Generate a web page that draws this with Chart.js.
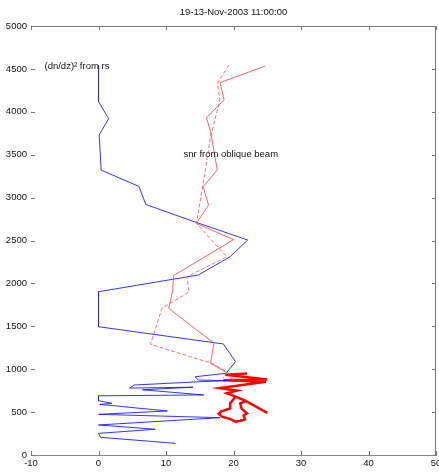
<!DOCTYPE html>
<html>
<head>
<meta charset="utf-8">
<script src="https://cdn.jsdelivr.net/npm/chart.js@4"></script>
<style>
  html, body { margin: 0; padding: 0; background: #fff; }
  #wrap { width: 439px; height: 476px; }
</style>
</head>
<body>
<div id="wrap"><canvas id="chart" width="439" height="476"></canvas></div>
<script>
// profile data: [value, height in m]
const rsProfile = [
    [0, 4540], [0, 4120], [1.5, 3920], [0.1, 3730], [0.4, 3320], [6, 3130], [7, 2920],
    [14.3, 2716], [22.1, 2506], [19.5, 2311], [14.8, 2098], [0, 1903], [0, 1495],
    [18.5, 1294], [20.3, 1088], [18.9, 952], [14.3, 912], [14.8, 874], [19, 866],
    [15, 854], [5.3, 816], [4.6, 780], [14, 790], [6.5, 760], [15.6, 700], [0, 690],
    [0, 633], [2, 602], [0.2, 590], [10.2, 513], [0, 474], [18, 435], [0, 350],
    [8.4, 300], [0, 252], [0.3, 206], [11.4, 136],
];
const snrProfileA = [
    [24.7, 4534], [18, 4340], [18.6, 4140], [16, 3930], [16.6, 3770], [17.6, 3322],
    [15.5, 3127], [16.3, 2914], [14.5, 2700], [20, 2510], [11.1, 2090], [11, 1920],
    [10.4, 1710], [17.1, 1302], [16.6, 1068], [19, 960], [20, 870],
];
const snrProfileB = [
    [19.3, 4545], [17.6, 4330], [18, 4140], [16.6, 3710], [15.5, 3160], [14.5, 2700],
    [19, 2311], [13.1, 2078], [13.4, 1900], [9.4, 1710], [7.7, 1290], [16.8, 1068],
    [19, 971], [18.5, 900],
];
const snrLowA = [
    [22, 950], [18.8, 935], [25, 880], [18.5, 870], [24.8, 855], [18, 780], [20.5, 750],
    [19, 720], [20.3, 680], [21.8, 630], [25, 490],
];
const snrLowB = [
    [20.3, 680], [19.5, 600], [19.5, 544], [18.2, 510], [17.8, 480], [18.3, 446],
    [19.5, 420], [20.3, 388], [21, 400], [21.7, 415], [21.5, 460], [22, 486],
    [21.2, 540], [21, 600], [21.8, 630],
];
const xTicks = [-10, 0, 10, 20, 30, 40, 50];
const titleText = "19-13-Nov-2003 11:00:00";
const notes = [
    { text: "(dn/dz)\u00b2 from rs", x: -8, y: 4534 },
    { text: "snr from oblique beam", x: 12.6, y: 3500 },
];

const toPoints = arr => arr.map(([x, y]) => ({ x, y }));

// narrow font if there is one
const probe = document.createElement("canvas").getContext("2d");
const widthIn = f => { probe.font = "20px " + f; return probe.measureText("snr from oblique beam").width; };
const hasNarrow = widthIn('"Liberation Sans Narrow", monospace') !== widthIn("monospace");
const family = hasNarrow ? '"Liberation Sans Narrow"' : '"Liberation Sans", Arial';
const fontSize = hasNarrow ? 11 : 9.5;

const inwardTicks = {
    id: "inwardTicks",
    afterDraw(chart) {
        const ctx = chart.ctx;
        const { left, right, top, bottom } = chart.chartArea;
        const xs = chart.scales.x, ys = chart.scales.y;
        ctx.save();
        ctx.strokeStyle = "#777";
        ctx.lineWidth = 1;
        ctx.beginPath();
        ctx.moveTo(left, top + 0.5); ctx.lineTo(right, top + 0.5);
        ctx.moveTo(right - 0.5, top); ctx.lineTo(right - 0.5, bottom);
        xs.ticks.forEach(t => {
            const px = Math.round(xs.getPixelForValue(t.value)) + 0.5;
            ctx.moveTo(px, bottom); ctx.lineTo(px, bottom - 4);
            ctx.moveTo(px, top); ctx.lineTo(px, top + 4);
        });
        ys.ticks.forEach(t => {
            const py = Math.round(ys.getPixelForValue(t.value)) + 0.5;
            ctx.moveTo(left, py); ctx.lineTo(left + 4, py);
            ctx.moveTo(right, py); ctx.lineTo(right - 4, py);
        });
        ctx.stroke();

        ctx.fillStyle = "#111";
        ctx.font = fontSize + "px " + family;
        ctx.textAlign = "center";
        ctx.textBaseline = "middle";
        ctx.fillText(titleText, (left + right) / 2, 12);
        ctx.textAlign = "left";
        notes.forEach(n => ctx.fillText(n.text, xs.getPixelForValue(n.x), ys.getPixelForValue(n.y)));
        ctx.restore();
    },
};

const line = (data, color, width, dash) => ({
    data: toPoints(data),
    showLine: true,
    borderColor: color,
    borderWidth: width,
    borderDash: dash || [],
    pointRadius: 0,
    tension: 0,
});

new Chart(document.getElementById("chart"), {
    type: "scatter",
    data: {
        datasets: [
            line(snrProfileB, "rgba(255,70,70,0.75)", 1, [4, 2]),
            line(snrProfileA, "rgba(255,60,60,0.8)", 1),
            line(rsProfile, "rgba(30,30,255,0.9)", 1),
            line(snrLowB, "#ff0000", 2.5),
            line(snrLowA, "#ff0000", 2.5),
        ],
    },
    options: {
        responsive: false,
        animation: false,
        devicePixelRatio: 1,
        layout: { padding: { top: 26, right: 3, left: 0, bottom: 0 } },
        plugins: { legend: { display: false }, tooltip: { enabled: false } },
        scales: {
            x: {
                type: "linear",
                min: -10,
                max: 50,
                afterBuildTicks: scale => { scale.ticks = xTicks.map(value => ({ value })); },
                afterFit: scale => { scale.height = 21; scale.paddingLeft = 0; scale.paddingRight = 0; },
                grid: { display: false, drawTicks: false },
                border: { display: true, color: "#888" },
                ticks: { padding: 3, color: "#111", font: { size: fontSize, family }, callback: v => String(v) },
            },
            y: {
                type: "linear",
                min: 0,
                max: 5000,
                afterFit: scale => { scale.width = 31; },
                grid: { display: false, drawTicks: false },
                border: { display: false },
                ticks: { stepSize: 500, padding: 4, color: "#111", font: { size: fontSize, family }, callback: v => String(v) },
            },
        },
    },
    plugins: [inwardTicks],
});
</script>
</body>
</html>
